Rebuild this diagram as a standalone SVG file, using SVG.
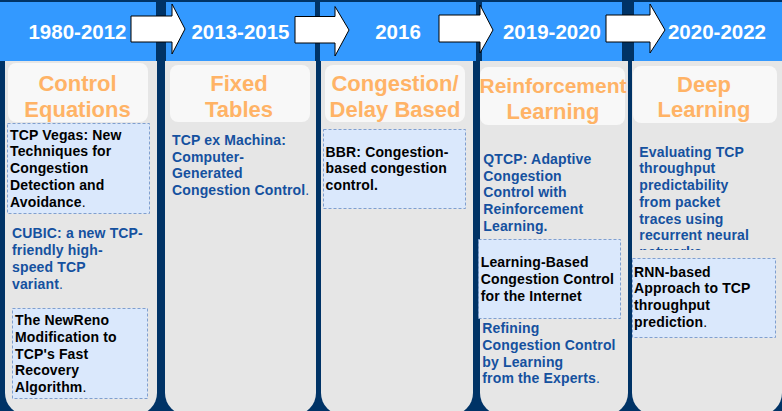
<svg xmlns="http://www.w3.org/2000/svg" width="782" height="411" viewBox="0 0 782 411">
<defs>
<style>
text{font-family:"Liberation Sans",Arial,sans-serif;font-weight:bold}
.hdr{fill:#3399ff}
.yr{fill:#ffffff;font-size:20.5px;text-anchor:middle}
.body{fill:#e6e6e6}
.cat{fill:#f8f8f8}
.ct{fill:#ffb366;font-size:22px;text-anchor:middle}
.pb{fill:#dae8fc;stroke:#7f9fd0;stroke-width:1;stroke-dasharray:3 2}
.pk{fill:#000000;font-size:14px;letter-spacing:0.15px}
.pbl{fill:#15519f;font-size:14px;letter-spacing:0.15px}
.dot{font-weight:normal}
.arr{fill:#ffffff;stroke:#000000;stroke-width:1}
</style>
<clipPath id="c5"><rect x="630" y="140" width="152" height="110"/></clipPath>
</defs>
<rect width="782" height="411" fill="#003366"/>

<g id="col1">
<path class="body" d="M5 61 H157 V393 A22 22 0 0 1 135 415 H27 A22 22 0 0 1 5 393 Z"/>
<rect class="hdr" x="0" y="2" width="156" height="59"/>
<text class="yr" x="77.5" y="39">1980-2012</text>
<rect class="cat" x="8" y="63" width="140" height="59" rx="8"/>
<text class="ct" x="77.5" y="91">Control</text>
<text class="ct" x="77.5" y="116.5">Equations</text>
<g id="p1a">
<rect class="pb" x="7.5" y="123.5" width="142" height="90"/>
<text class="pk" x="10" y="139.5">TCP Vegas: New</text>
<text class="pk" x="10" y="156.3">Techniques for</text>
<text class="pk" x="10" y="173.1">Congestion</text>
<text class="pk" x="10" y="189.9">Detection and</text>
<text class="pk" x="10" y="206.7">Avoidance<tspan class="dot">.</tspan></text>
</g>
<g id="p1b">
<text class="pbl" x="12" y="238.3">CUBIC: a new TCP-</text>
<text class="pbl" x="12" y="255.3">friendly high-</text>
<text class="pbl" x="12" y="272.3">speed TCP</text>
<text class="pbl" x="12" y="289.3">variant<tspan class="dot">.</tspan></text>
</g>
<g id="p1c">
<rect class="pb" x="12.5" y="308.5" width="135" height="90"/>
<text class="pk" x="15" y="325">The NewReno</text>
<text class="pk" x="15" y="341.8">Modification to</text>
<text class="pk" x="15" y="358.6">TCP's Fast</text>
<text class="pk" x="15" y="375.4">Recovery</text>
<text class="pk" x="15" y="392.2">Algorithm<tspan class="dot">.</tspan></text>
</g>
</g>

<g id="col2">
<path class="body" d="M165 61 H316 V393 A22 22 0 0 1 294 415 H187 A22 22 0 0 1 165 393 Z"/>
<rect class="hdr" x="166" y="2" width="149" height="59"/>
<text class="yr" x="240.5" y="39">2013-2015</text>
<rect class="cat" x="170" y="65" width="140" height="57" rx="8"/>
<text class="ct" x="239" y="91">Fixed</text>
<text class="ct" x="239" y="117">Tables</text>
<g id="p2a">
<text class="pbl" x="172" y="145">TCP ex Machina:</text>
<text class="pbl" x="172" y="161.7">Computer-</text>
<text class="pbl" x="172" y="178.4">Generated</text>
<text class="pbl" x="172" y="195.1">Congestion Control<tspan class="dot">.</tspan></text>
</g>
</g>

<g id="col3">
<path class="body" d="M321 61 H473 V393 A22 22 0 0 1 451 415 H343 A22 22 0 0 1 321 393 Z"/>
<rect class="hdr" x="320" y="2" width="156" height="59"/>
<text class="yr" x="398" y="39">2016</text>
<rect class="cat" x="325" y="65" width="140" height="57" rx="8"/>
<text class="ct" x="395" y="91">Congestion/</text>
<text class="ct" x="395" y="117">Delay Based</text>
<g id="p3a">
<rect class="pb" x="323.5" y="129.5" width="142" height="79"/>
<text class="pk" x="325.5" y="156.7">BBR: Congestion-</text>
<text class="pk" x="325.5" y="173.4">based congestion</text>
<text class="pk" x="325.5" y="190.1">control.</text>
</g>
</g>

<g id="col4">
<path class="body" d="M480 61 H628 V393 A22 22 0 0 1 606 415 H502 A22 22 0 0 1 480 393 Z"/>
<rect class="hdr" x="482" y="2" width="140" height="59"/>
<text class="yr" x="552" y="39">2019-2020</text>
<rect class="cat" x="480" y="67" width="145" height="58" rx="8"/>
<text class="ct" x="553" y="93" style="font-size:21px">Reinforcement</text>
<text class="ct" x="553" y="118.5">Learning</text>
<g id="p4a">
<text class="pbl" x="483.3" y="164">QTCP: Adaptive</text>
<text class="pbl" x="483.3" y="180.7">Congestion</text>
<text class="pbl" x="483.3" y="197.4">Control with</text>
<text class="pbl" x="483.3" y="214.1">Reinforcement</text>
<text class="pbl" x="483.3" y="230.8">Learning.</text>
</g>
<g id="p4b">
<rect class="pb" x="478.5" y="239.5" width="142" height="79"/>
<text class="pk" x="480.7" y="267.3">Learning-Based</text>
<text class="pk" x="480.7" y="284">Congestion Control</text>
<text class="pk" x="480.7" y="300.5">for the Internet</text>
</g>
<g id="p4c">
<text class="pbl" x="482.3" y="333.3">Refining</text>
<text class="pbl" x="482.3" y="350">Congestion Control</text>
<text class="pbl" x="482.3" y="366.7">by Learning</text>
<text class="pbl" x="482.3" y="383.4">from the Experts<tspan class="dot">.</tspan></text>
</g>
</g>

<g id="col5">
<path class="body" d="M632 61 H782 V393 A22 22 0 0 1 760 415 H654 A22 22 0 0 1 632 393 Z"/>
<rect class="hdr" x="634" y="2" width="148" height="59"/>
<text class="yr" x="717" y="39">2020-2022</text>
<rect class="cat" x="633" y="66" width="144" height="57" rx="8"/>
<text class="ct" x="704" y="92">Deep</text>
<text class="ct" x="704" y="117">Learning</text>
<g id="p5a" clip-path="url(#c5)">
<text class="pbl" x="639.3" y="156.7">Evaluating TCP</text>
<text class="pbl" x="639.3" y="173.4">throughput</text>
<text class="pbl" x="639.3" y="190.1">predictability</text>
<text class="pbl" x="639.3" y="206.8">from packet</text>
<text class="pbl" x="639.3" y="223.5">traces using</text>
<text class="pbl" x="639.3" y="240.2">recurrent neural</text>
<text class="pbl" x="639.3" y="256.9">networks</text>
</g>
<g id="p5b">
<rect class="pb" x="632.5" y="258.5" width="143" height="79"/>
<text class="pk" x="634" y="276.7">RNN-based</text>
<text class="pk" x="634" y="293.4">Approach to TCP</text>
<text class="pk" x="634" y="310.1">throughput</text>
<text class="pk" x="634" y="326.8">prediction<tspan class="dot">.</tspan></text>
</g>
</g>

<g id="connectors">
<path class="arr" d="M131 16 H172 V4 L185 29 L172 54 V42 H131 Z"/>
<path class="arr" d="M295 16.5 H335 V6.5 L349 30 L335 56 V43 H295 Z"/>
<path class="arr" d="M439 15 H480 V5 L493 30 L480 53 V42 H439 Z"/>
<path class="arr" d="M606 15 H650 V4 L665 30 L650 53 V42 H606 Z"/>
</g>
</svg>
